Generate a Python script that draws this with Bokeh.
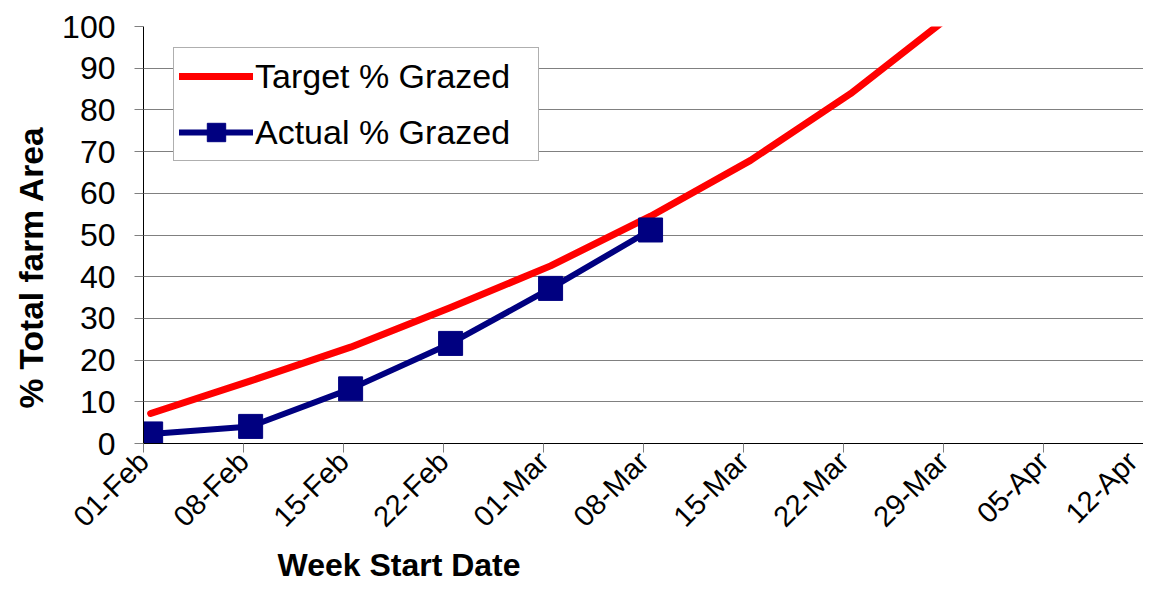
import math
import pandas as pd
from bokeh.plotting import figure
from bokeh.models import FixedTicker, Legend, LegendItem, Range1d, Title
from bokeh.embed import file_html
from bokeh.resources import INLINE

# ---------------- data ----------------
week_labels = ["01-Feb", "08-Feb", "15-Feb", "22-Feb", "01-Mar", "08-Mar",
               "15-Mar", "22-Mar", "29-Mar", "05-Apr", "12-Apr"]
target_dates = ["01-Feb", "08-Feb", "15-Feb", "22-Feb", "01-Mar", "08-Mar",
                "15-Mar", "22-Mar", "29-Mar"]
target_pct = [7.2, 15.0, 23.1, 32.6, 42.6, 54.5, 67.9, 83.9, 102.6]
actual_dates = ["01-Feb", "08-Feb", "15-Feb", "22-Feb", "01-Mar", "08-Mar"]
actual_pct = [2.3, 4.1, 13.1, 24.0, 37.2, 51.2]
y_ticks = [0, 10, 20, 30, 40, 50, 60, 70, 80, 90, 100]
year = "2010"

start = pd.to_datetime("01-Feb-" + year, format="%d-%b-%Y")


def day_num(lbl):
    return (pd.to_datetime(lbl + "-" + year, format="%d-%b-%Y") - start).days


tick_days = [day_num(l) for l in week_labels]
# Excel date axis: points sit in the middle of their day
target_x = [day_num(d) + 0.5 for d in target_dates]
actual_x = [day_num(d) + 0.5 for d in actual_dates]

FONT = "Liberation Sans"
GRID = "#808080"

p = figure(width=1143, height=579,
           x_range=Range1d(0, tick_days[-1] + 0.01), y_range=Range1d(0, 100),
           output_backend="svg", toolbar_location=None,
           min_border_left=143, min_border_right=0,
           min_border_top=26, min_border_bottom=136)
p.outline_line_color = None
p.background_fill_color = "white"
p.border_fill_color = "white"

p.xgrid.visible = False
p.ygrid.grid_line_color = GRID
p.ygrid.grid_line_width = 1

xa = p.xaxis[0]
xa.ticker = FixedTicker(ticks=tick_days)
xa.major_label_overrides = {d: l for d, l in zip(tick_days, week_labels)}
xa.major_label_orientation = math.pi / 4
xa.major_label_text_font = FONT
xa.major_label_text_font_size = "29px"
xa.major_label_text_color = "black"
xa.major_label_standoff = 4
xa.axis_line_color = "black"
xa.major_tick_in = 0
xa.major_tick_out = 9
xa.major_tick_line_color = GRID
xa.minor_tick_line_color = None

ya = p.yaxis[0]
ya.ticker = FixedTicker(ticks=y_ticks)
ya.major_label_text_font = FONT
ya.major_label_text_font_size = "32px"
ya.major_label_text_color = "black"
ya.major_label_standoff = 19
ya.axis_line_color = "black"
ya.major_tick_in = 0
ya.major_tick_out = 9
ya.major_tick_line_color = GRID
ya.minor_tick_line_color = None

red = p.line(target_x, target_pct, line_color="#FF0000", line_width=7,
             line_join="round", line_cap="round")
blue_line = p.line(actual_x, actual_pct, line_color="#000080", line_width=6,
                   line_join="round", line_cap="round")
blue_sq = p.scatter(actual_x, actual_pct, marker="square", size=24,
                    fill_color="#000080", line_color="#000080")

legend = Legend(items=[LegendItem(label="Target % Grazed", renderers=[red]),
                       LegendItem(label="Actual % Grazed",
                                  renderers=[blue_line, blue_sq])],
                location=(30, 282),
                border_line_color="#606060", border_line_width=1,
                background_fill_color="white", background_fill_alpha=1,
                label_text_font=FONT, label_text_font_size="34px",
                label_text_color="black",
                glyph_width=74, glyph_height=46, spacing=10, padding=5,
                label_standoff=2, label_width=278, margin=0)
p.add_layout(legend, "center")

# axis titles as side-panel titles
p.add_layout(Title(text="% Total farm Area", text_font=FONT,
                   text_font_style="bold", text_font_size="33.5px",
                   text_color="black", align="left", offset=35,
                   vertical_align="bottom", standoff=20), "left")

x_title = Title(text="Week Start Date", text_font=FONT,
                text_font_style="bold", text_font_size="32px",
                text_color="black", align="left", offset=134,
                vertical_align="bottom")
try:
    x_title.standoff = -6
except Exception:
    x_title.standoff = 0
p.add_layout(x_title, "below")

open("out.html", "w").write(file_html(p, INLINE))
